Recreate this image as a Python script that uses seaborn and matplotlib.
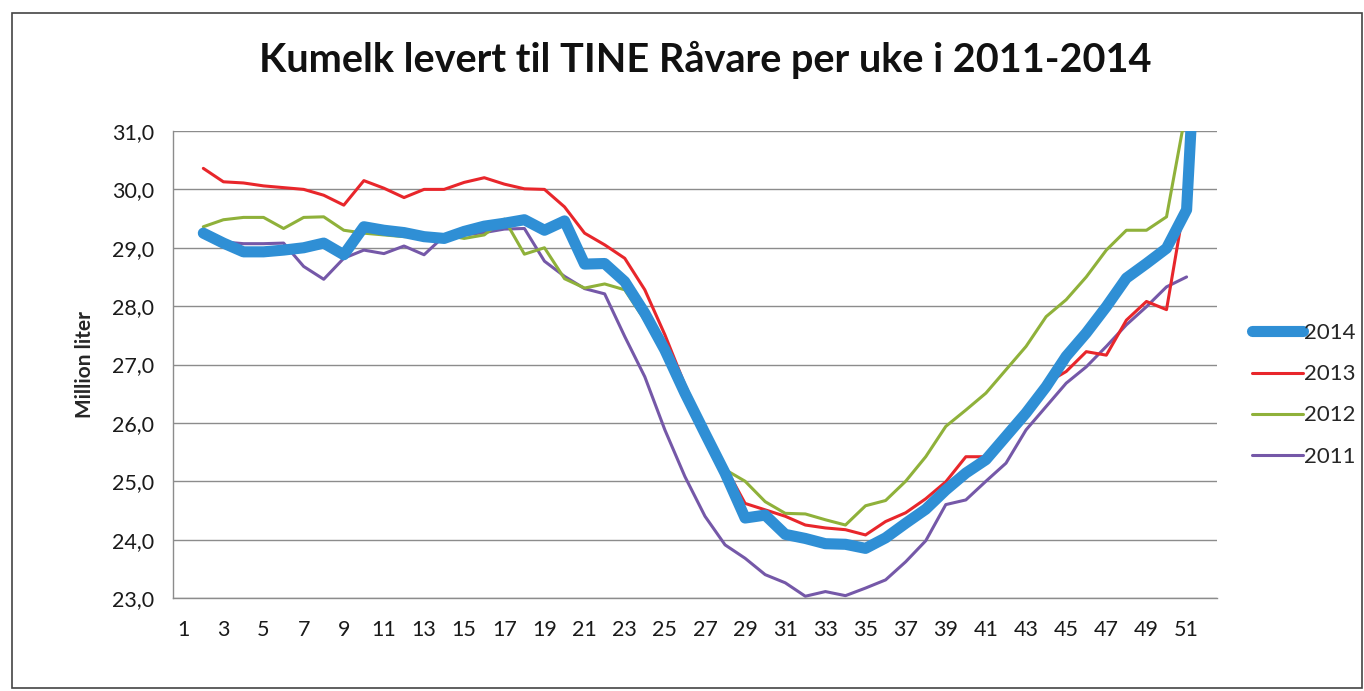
"""Kumelk levert til TINE Råvare per uke, 2011-2014."""

import matplotlib
matplotlib.use("Agg")
import matplotlib.pyplot as plt
import numpy as np
import pandas as pd
import seaborn as sns
from matplotlib.patches import Rectangle

# uke 2..52
weeks = list(range(2, 53))

y2014 = [29.25, 29.08, 28.93, 28.93, 28.96, 29.00, 29.08, 28.88, 29.36, 29.30,
         29.26, 29.19, 29.16, 29.28, 29.37, 29.42, 29.48, 29.30, 29.46, 28.72,
         28.73, 28.42, 27.88, 27.25, 26.51, 25.82, 25.14, 24.37, 24.42, 24.09,
         24.02, 23.93, 23.92, 23.85, 24.03, 24.28, 24.52, 24.85, 25.14, 25.37,
         25.77, 26.17, 26.62, 27.14, 27.54, 27.99, 28.48, 28.73, 28.99, 29.65,
         36.0]
y2013 = [30.36, 30.13, 30.11, 30.06, 30.03, 30.00, 29.90, 29.73, 30.15, 30.02,
         29.86, 30.00, 30.00, 30.12, 30.20, 30.09, 30.01, 30.00, 29.70, 29.25,
         29.05, 28.82, 28.28, 27.51, 26.65, 25.91, 25.25, 24.62, 24.51, 24.40,
         24.25, 24.20, 24.17, 24.08, 24.31, 24.46, 24.70, 24.99, 25.42, 25.42,
         25.77, 26.19, 26.68, 26.88, 27.22, 27.16, 27.76, 28.08, 27.94, 29.96]
y2012 = [29.36, 29.48, 29.52, 29.52, 29.33, 29.52, 29.53, 29.30, 29.25, 29.22,
         29.19, 29.20, 29.22, 29.16, 29.22, 29.49, 28.89, 29.00, 28.47, 28.31,
         28.38, 28.28, 27.76, 27.16, 26.62, 25.94, 25.20, 25.00, 24.65, 24.45,
         24.44, 24.34, 24.25, 24.58, 24.67, 25.00, 25.42, 25.94, 26.22, 26.51,
         26.91, 27.31, 27.82, 28.11, 28.50, 28.96, 29.30, 29.30, 29.53, 31.40]
y2011 = [29.22, 29.10, 29.07, 29.07, 29.08, 28.68, 28.46, 28.82, 28.96, 28.90,
         29.03, 28.88, 29.20, 29.22, 29.26, 29.32, 29.33, 28.77, 28.51, 28.30,
         28.21, 27.48, 26.79, 25.88, 25.08, 24.40, 23.91, 23.68, 23.40, 23.26,
         23.03, 23.11, 23.04, 23.17, 23.31, 23.62, 23.98, 24.60, 24.68, 25.00,
         25.31, 25.88, 26.28, 26.68, 26.96, 27.31, 27.68, 27.99, 28.33, 28.50]

series_order = ["2014", "2013", "2012", "2011"]
colors = {"2014": "#2F8FD5", "2013": "#E8262B", "2012": "#8FB13A", "2011": "#7558A8"}
widths = {"2014": 8.0, "2013": 2.2, "2012": 2.2, "2011": 2.2}

xticks = list(range(1, 52, 2))
yticks = np.arange(23, 31.5, 1.0)


def build_frame() -> pd.DataFrame:
    rows = []
    for name, vals in [("2014", y2014), ("2013", y2013), ("2012", y2012), ("2011", y2011)]:
        for w, v in zip(weeks, vals):
            rows.append({"uke": w, "verdi": v, "år": name})
    return pd.DataFrame(rows)


def main() -> None:
    sns.set_theme(style="white")
    plt.rcParams["font.family"] = ["Lato", "DejaVu Sans"]

    df = build_frame()
    fig = plt.figure(figsize=(13.64, 6.91), dpi=100)
    ax = fig.add_axes([0.127, 0.1346, 0.765, 0.6758])

    # tegn eldste først, 2014 øverst
    for name in ["2011", "2012", "2013", "2014"]:
        sub = df[df["år"] == name]
        sns.lineplot(data=sub, x="uke", y="verdi", ax=ax, color=colors[name],
                     linewidth=widths[name], label=name, legend=False,
                     solid_joinstyle="round", solid_capstyle="round")

    ax.set_xlim(0.5, 52.5)
    ax.set_ylim(23, 31)
    ax.set_xticks(xticks)
    ax.set_xticklabels([str(t) for t in xticks], fontsize=15.5)
    ax.set_yticks(yticks)
    ax.set_yticklabels([f"{t:.1f}".replace(".", ",") for t in yticks], fontsize=15.5)
    ax.tick_params(axis="both", length=0, colors="#1a1a1a")
    ax.tick_params(axis="x", pad=16)
    ax.tick_params(axis="y", pad=14)
    ax.yaxis.grid(True, color="#8c8c8c", linewidth=1.0)
    ax.xaxis.grid(False)
    for side in ["top", "right"]:
        ax.spines[side].set_visible(False)
    for side in ["left", "bottom"]:
        ax.spines[side].set_color("#8c8c8c")
        ax.spines[side].set_linewidth(1.0)

    ax.set_xlabel("")
    ax.set_ylabel("Million liter", fontsize=15, fontweight="bold", labelpad=12)

    fig.text(0.517, 0.913, "Kumelk levert til TINE Råvare per uke i 2011-2014",
             ha="center", va="center", fontsize=28.5, fontweight="bold", color="#111111")

    handles, labels = ax.get_legend_handles_labels()
    order = [labels.index(n) for n in series_order]
    ax.legend([handles[i] for i in order], [labels[i] for i in order],
              loc="center left", bbox_to_anchor=(1.025, 0.435), frameon=False,
              fontsize=16, handlelength=2.3, handletextpad=0.05,
              labelspacing=0.95, borderaxespad=0)

    fig.add_artist(Rectangle((12 / 1364, 3 / 691), 1350 / 1364, 675 / 691,
                             transform=fig.transFigure, fill=False,
                             edgecolor="#444444", linewidth=1.2))

    fig.savefig("out.png", dpi=100)


if __name__ == "__main__":
    main()
